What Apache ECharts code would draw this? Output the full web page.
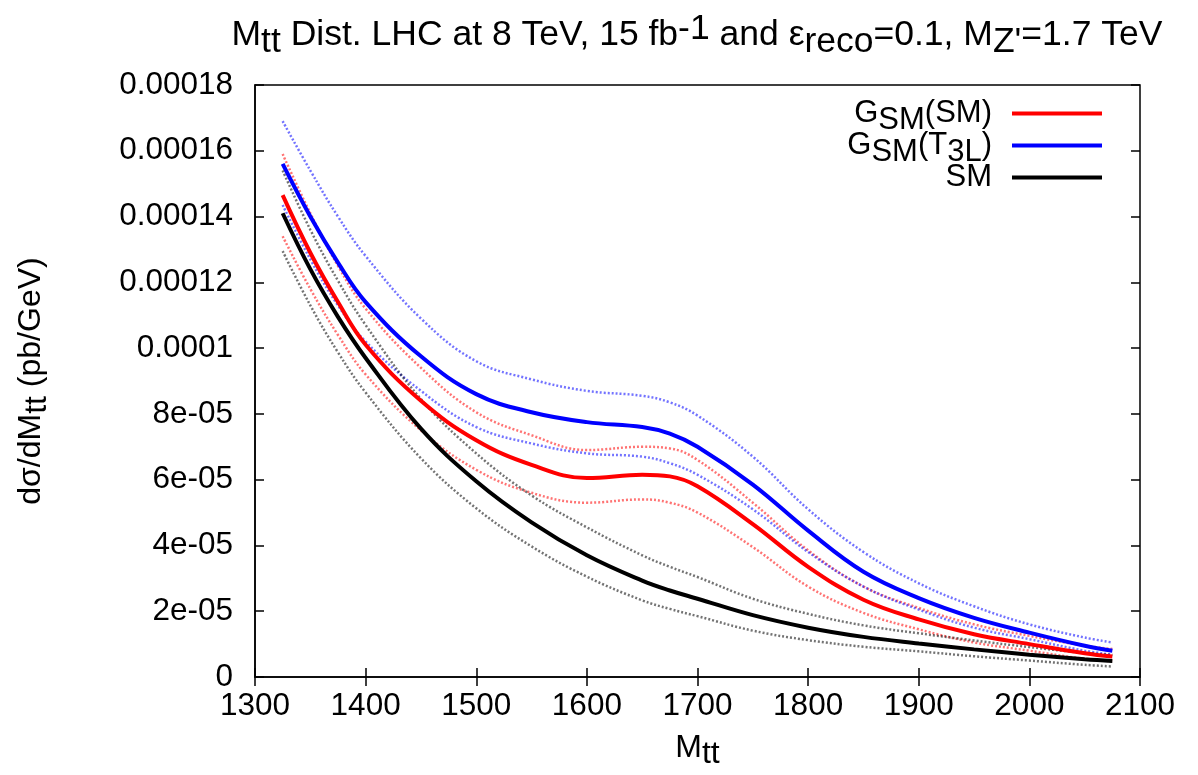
<!DOCTYPE html>
<html>
<head>
<meta charset="utf-8">
<script src="https://cdn.jsdelivr.net/npm/echarts@6/dist/echarts.min.js"></script>
<style>
html,body{margin:0;padding:0;background:#fff;}
#chart{width:1198px;height:775px;}
</style>
</head>
<body>
<div id="chart"></div>
<script>
// M_tt grid (GeV)
const mtt = [1325, 1350, 1375, 1400, 1450, 1500, 1550, 1600, 1650, 1675, 1700, 1750, 1800, 1850, 1900, 1950, 2000, 2050, 2075];
// values in units of 1e-5 pb/GeV
const UNIT = 1e-5;
const gsmSM      = [14.65, 12.9, 11.4, 10.1, 8.4, 7.2, 6.45, 6.05, 6.15, 6.1, 5.8, 4.65, 3.35, 2.35, 1.75, 1.3, 1.0, 0.72, 0.62];
const gsmSMUp    = [15.9, 14.1, 12.5, 11.2, 9.4, 8.05, 7.35, 6.9, 7.0, 6.95, 6.6, 5.3, 3.85, 2.75, 2.1, 1.6, 1.25, 0.95, 0.85];
const gsmSMLo    = [13.4, 11.8, 10.4, 9.2, 7.5, 6.3, 5.6, 5.3, 5.4, 5.3, 5.0, 3.95, 2.75, 1.95, 1.45, 1.05, 0.8, 0.55, 0.48];
const gsmT3L     = [15.6, 14.0, 12.6, 11.4, 9.75, 8.6, 8.05, 7.75, 7.6, 7.4, 7.0, 5.85, 4.45, 3.2, 2.4, 1.8, 1.35, 0.95, 0.8];
const gsmT3LUp   = [16.9, 15.4, 14.0, 12.8, 10.9, 9.6, 9.05, 8.7, 8.55, 8.35, 7.95, 6.7, 5.1, 3.8, 2.85, 2.15, 1.6, 1.2, 1.05];
const gsmT3LLo   = [14.35, 12.7, 11.3, 10.2, 8.7, 7.6, 7.1, 6.8, 6.7, 6.5, 6.15, 5.1, 3.8, 2.75, 2.05, 1.5, 1.15, 0.8, 0.68];
const sm         = [14.1, 12.4, 10.95, 9.7, 7.55, 5.95, 4.7, 3.7, 2.93, 2.63, 2.38, 1.88, 1.5, 1.22, 1.02, 0.84, 0.68, 0.54, 0.49];
const smUp       = [15.4, 13.6, 12.05, 10.7, 8.45, 6.8, 5.52, 4.55, 3.7, 3.35, 3.04, 2.38, 1.92, 1.57, 1.33, 1.11, 0.91, 0.73, 0.67];
const smLo       = [12.95, 11.3, 9.87, 8.65, 6.65, 5.13, 3.97, 3.05, 2.33, 2.07, 1.85, 1.41, 1.12, 0.92, 0.78, 0.63, 0.5, 0.37, 0.32];

const xTicks = ['1300','1400','1500','1600','1700','1800','1900','2000','2100'];
const yTicks = ['0','2e-05','4e-05','6e-05','8e-05','0.0001','0.00012','0.00014','0.00016','0.00018'];

// legend labels (rich-text markup for subscripts)
const legendNames = ['G{sub|SM}(SM)', 'G{sub|SM}(T{sub|3L})', 'SM'];

function toData(arr){ return mtt.map((m,i)=>[m, arr[i]*UNIT]); }

const FONT = "'Liberation Sans'";
const RED = '#ff0000', BLUE = '#0000ff', BLACK = '#000000';

function solid(name, arr, color){
  return {name, type:'line', data: toData(arr), smooth: 0.4, symbol:'none',
    lineStyle:{color, width:4}, itemStyle:{color}, z:5, xAxisIndex:0, yAxisIndex:0};
}
function dotted(name, arr, color){
  return {name, type:'line', data: toData(arr), smooth: 0.4, symbol:'none',
    lineStyle:{color, width:2.5, type:[2,2], opacity:0.55}, itemStyle:{color}, z:3, xAxisIndex:0, yAxisIndex:0};
}
// subscript/superscript tokens: same size as the main text, shifted vertically
function richFor(size, pad){
  return {
    sub:{fontSize:size, fontFamily:FONT, color:'#000', verticalAlign:'top', lineHeight:10, padding:[pad,0,0,0]},
    sup:{fontSize:size, fontFamily:FONT, color:'#000', verticalAlign:'bottom', lineHeight:10, padding:[0,0,pad,0]}
  };
}

const chart = echarts.init(document.getElementById('chart'), null, {renderer:'canvas'});
const option = {
  backgroundColor:'#fff',
  animation:false,
  textStyle:{fontFamily:FONT},
  title:{
    text:"M{sub|tt} Dist. LHC at 8 TeV, 15 fb{sup|-1} and ε{sub|reco}=0.1, M{sub|Z'}=1.7 TeV",
    left:692, top:14, textAlign:'center',
    textStyle:{fontFamily:FONT, fontSize:35.5, fontWeight:'normal', color:'#000', lineHeight:33, rich:richFor(35.5, 5)}
  },
  legend:{
    orient:'vertical', right:91, top:92, align:'right',
    itemWidth:90, itemHeight:4, itemGap:-7,
    data: legendNames.map(n=>({name:n})),
    textStyle:{fontFamily:FONT, fontSize:31, color:'#000', lineHeight:33, padding:[0,15,0,0], rich:richFor(31, 8)},
    icon:'rect'
  },
  grid:{left:255, top:85, right:58, bottom:98, show:true, borderColor:'#000', borderWidth:1.5},
  xAxis:[{
    type:'value', min:1300, max:2100, interval:100,
    axisLine:{show:true, lineStyle:{color:'#000', width:1.5}},
    axisTick:{show:true, inside:true, length:9, lineStyle:{color:'#000', width:1.5}},
    splitLine:{show:false},
    axisLabel:{color:'#000', fontSize:31.5, fontFamily:FONT, margin:13,
      formatter:(v)=>xTicks[Math.round((v-1300)/100)]},
    name:'M{sub|tt}', nameLocation:'middle', nameGap:55,
    nameTextStyle:{color:'#000', fontSize:32, fontFamily:FONT, lineHeight:33, rich:richFor(32, 6)}
  },{
    type:'value', min:1300, max:2100, interval:100, position:'top',
    axisLine:{show:false}, axisLabel:{show:false}, splitLine:{show:false},
    axisTick:{show:true, inside:true, length:9, lineStyle:{color:'#000', width:1.5}}
  }],
  yAxis:[{
    type:'value', min:0, max:0.00018, interval:0.00002,
    axisLine:{show:true, lineStyle:{color:'#000', width:1.5}},
    axisTick:{show:true, inside:true, length:9, lineStyle:{color:'#000', width:1.5}},
    splitLine:{show:false},
    axisLabel:{color:'#000', fontSize:31.5, fontFamily:FONT, margin:22,
      formatter:(v)=>yTicks[Math.round(v/0.00002)]},
    name:'dσ/dM{sub|tt} (pb/GeV)', nameLocation:'middle', nameGap:207, nameRotate:90,
    nameTextStyle:{color:'#000', fontSize:32, fontFamily:FONT, lineHeight:33, rich:richFor(32, 6)}
  },{
    type:'value', min:0, max:0.00018, interval:0.00002, position:'right',
    axisLine:{show:false}, axisLabel:{show:false}, splitLine:{show:false},
    axisTick:{show:true, inside:true, length:9, lineStyle:{color:'#000', width:1.5}}
  }],
  series:[
    dotted('gsmSMUp', gsmSMUp, RED),
    dotted('gsmSMLo', gsmSMLo, RED),
    dotted('gsmT3LUp', gsmT3LUp, BLUE),
    dotted('gsmT3LLo', gsmT3LLo, BLUE),
    dotted('smUp', smUp, BLACK),
    dotted('smLo', smLo, BLACK),
    solid(legendNames[0], gsmSM, RED),
    solid(legendNames[1], gsmT3L, BLUE),
    solid(legendNames[2], sm, BLACK)
  ]
};
chart.setOption(option);
</script>
</body>
</html>
